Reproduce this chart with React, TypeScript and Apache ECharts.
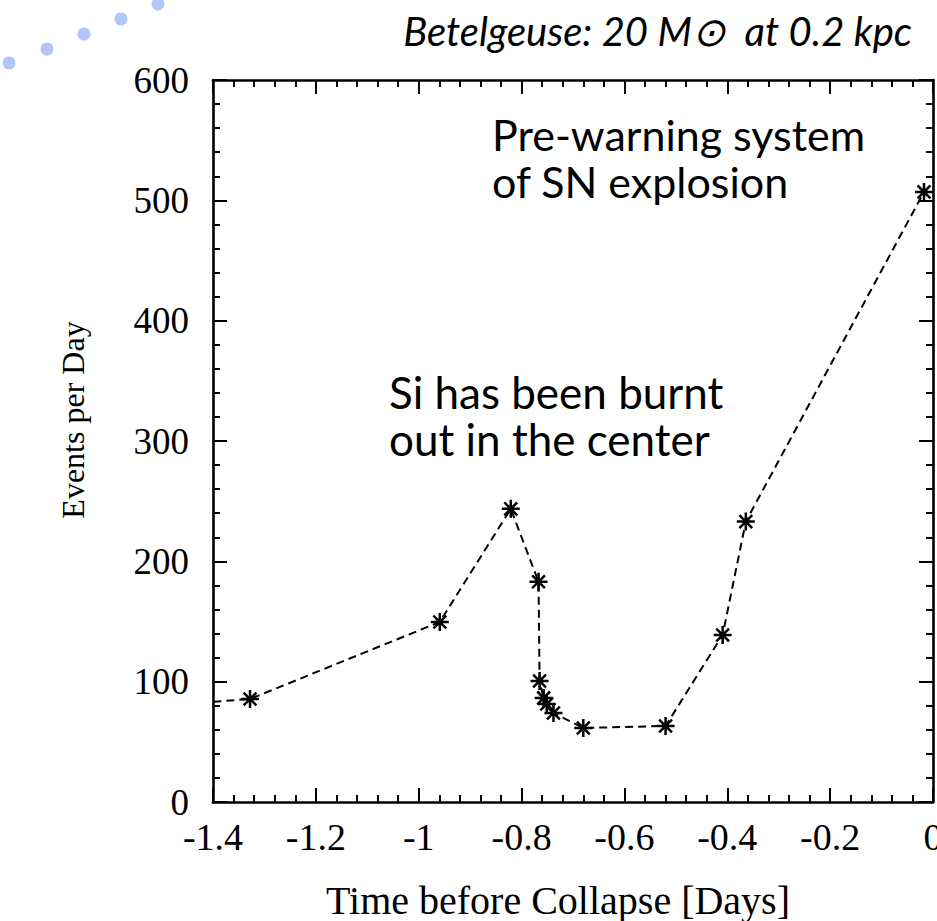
import React, { useEffect, useRef } from "react";
import * as echarts from "echarts";

// Time before core collapse [days] and detected events per day
const timeBeforeCollapse = [
  -1.5, -1.328, -0.959, -0.821, -0.767, -0.765, -0.757, -0.751, -0.738, -0.68,
  -0.52, -0.409, -0.364, -0.0175,
];
const eventsPerDay = [
  80, 85.6, 149.6, 243.6, 183, 100.6, 86.5, 81.5, 74, 61.5, 63.2, 138.8, 233,
  507,
];

const xRange = [-1.4, 0];
const yRange = [0, 600];
const xStep = 0.2;
const yStep = 100;

const titleText = "Betelgeuse: 20 M\u2299  at 0.2 kpc";
const noteSilicon = "Si has been burnt\nout in the center";
const noteWarning = "Pre-warning system\nof SN explosion";
const xName = "Time before Collapse [Days]";
const yName = "Events per Day";

const W = 937;
const H = 921;
const SERIF = "'Liberation Serif', 'DejaVu Serif', serif";
const SANS = "Lato, 'Open Sans', sans-serif";

// gnuplot-style asterisk: plus and cross overlaid
const ASTERISK =
  "path://M8 0L8 16M0 8L16 8M2.3 2.3L13.7 13.7M2.3 13.7L13.7 2.3";

const frameLine = {
  show: true,
  onZero: false,
  lineStyle: { color: "#000", width: 2.6 },
};
const majorTick = {
  show: true,
  inside: true,
  length: 14,
  lineStyle: { color: "#000", width: 2 },
};
const minorTick = {
  show: true,
  splitNumber: 5,
  length: 7,
  lineStyle: { color: "#000", width: 2 },
};

export default function App() {
  const ref = useRef<HTMLDivElement>(null);

  useEffect(() => {
    if (!ref.current) return;
    document.body.style.margin = "0";
    document.body.style.overflow = "hidden";
    const chart = echarts.init(ref.current, null, {
      renderer: "svg",
      width: W,
      height: H,
    });

    const points = timeBeforeCollapse.map((t, i) => [t, eventsPerDay[i]]);

    const dots = [
      [9, 63],
      [47, 49],
      [84, 34],
      [121, 19],
      [158, 4],
    ].map(([cx, cy]) => ({
      type: "circle",
      shape: { cx, cy, r: 6.5 },
      style: { fill: "#b4c5fa" },
      silent: true,
    }));

    chart.setOption({
      animation: false,
      backgroundColor: "#fff",
      grid: {
        left: 213,
        top: 80,
        right: 4,
        bottom: 119,
        containLabel: false,
        outerBoundsMode: "none",
      },
      xAxis: [
        {
          type: "value",
          position: "bottom",
          min: xRange[0],
          max: xRange[1],
          interval: xStep,
          axisLine: frameLine,
          axisTick: majorTick,
          minorTick,
          splitLine: { show: false },
          axisLabel: {
            color: "#000",
            fontFamily: SERIF,
            fontSize: 38,
            margin: 16,
          },
          name: xName,
          nameLocation: "middle",
          nameGap: 78,
          nameTextStyle: {
            color: "#000",
            fontFamily: SERIF,
            fontSize: 40,
            padding: [0, 30, 0, 0],
          },
        },
        {
          type: "value",
          position: "top",
          min: xRange[0],
          max: xRange[1],
          interval: xStep,
          axisLine: frameLine,
          axisTick: majorTick,
          minorTick,
          splitLine: { show: false },
          axisLabel: { show: false },
        },
      ],
      yAxis: [
        {
          type: "value",
          position: "left",
          min: yRange[0],
          max: yRange[1],
          interval: yStep,
          axisLine: frameLine,
          axisTick: majorTick,
          minorTick,
          splitLine: { show: false },
          axisLabel: {
            color: "#000",
            fontFamily: SERIF,
            fontSize: 37,
            margin: 24,
          },
          name: yName,
          nameLocation: "middle",
          nameGap: 124,
          nameTextStyle: {
            color: "#000",
            fontFamily: SERIF,
            fontSize: 32,
            padding: [0, 0, 0, 42],
          },
        },
        {
          type: "value",
          position: "right",
          min: yRange[0],
          max: yRange[1],
          interval: yStep,
          axisLine: frameLine,
          axisTick: majorTick,
          minorTick,
          splitLine: { show: false },
          axisLabel: { show: false },
        },
      ],
      series: [
        {
          type: "line",
          data: points,
          xAxisIndex: 0,
          yAxisIndex: 0,
          clip: true,
          symbol: ASTERISK,
          symbolSize: 18,
          showAllSymbol: true,
          itemStyle: { color: "#000", borderColor: "#000", borderWidth: 2.5 },
          lineStyle: { color: "#000", width: 2, type: [8, 5] },
          emphasis: { disabled: true },
          z: 3,
        },
      ],
      graphic: [
        ...dots,
        {
          type: "text",
          right: 25,
          top: 11,
          style: {
            text: titleText,
            fill: "#000",
            font: `italic 40px ${SANS}`,
          },
        },
        {
          type: "text",
          left: 389,
          top: 368,
          style: {
            text: noteSilicon,
            fill: "#000",
            font: `44px ${SANS}`,
            lineHeight: 47,
          },
        },
        {
          type: "text",
          left: 492,
          top: 111,
          style: {
            text: noteWarning,
            fill: "#000",
            font: `43px ${SANS}`,
            lineHeight: 47,
          },
        },
      ],
    });

    return () => chart.dispose();
  }, []);

  return (
    <div
      ref={ref}
      style={{
        position: "fixed",
        left: 0,
        top: 0,
        width: W,
        height: H,
        background: "#fff",
      }}
    />
  );
}
